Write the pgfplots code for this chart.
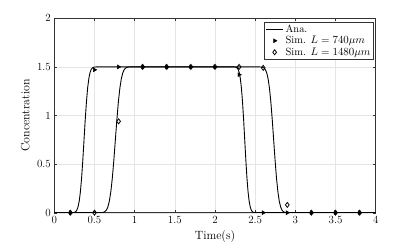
\documentclass[border=0pt]{standalone}
\usepackage{pgfplots}
\pgfplotsset{compat=1.18}
\begin{document}
\begin{tikzpicture}
\begin{axis}[
  at={(0,0)}, anchor=south west,
  scale only axis, width=321.4bp, height=194.4bp,
  xmin=0, xmax=4, ymin=0, ymax=2,
  xtick={0,0.5,...,4}, ytick={0,0.5,...,2},
  xticklabels={0,0.5,1,1.5,2,2.5,3,3.5,4},
  yticklabels={0,0.5,1,1.5,2},
  grid=major, major grid style={gray!20, line width=0.4pt},
  axis line style={black!80, line width=0.5pt},
  tick style={black!80, line width=0.4pt}, major tick length=3pt,
  tick label style={font=\fontsize{11}{13}\selectfont},
  xlabel={Time(s)}, ylabel={Concentration},
  label style={font=\fontsize{12}{14}\selectfont},
  xlabel style={at={(axis description cs:0.5,0)}, anchor=center, yshift=-24bp},
  ylabel style={at={(axis description cs:0,0.5)}, anchor=center, xshift=0bp, yshift=29bp},
  legend style={at={(axis description cs:0.994,0.983)}, anchor=north east, draw=black!80, line width=0.5pt,
     font=\fontsize{10.5}{12.5}\selectfont, inner sep=1pt, row sep=-1.5pt, fill=white},
  legend cell align=left,
]
\addplot[black, line width=0.9pt] coordinates {
(0,0) (0.22,0.0003) (0.235,0.0011) (0.25,0.0035) (0.265,0.0100) (0.28,0.0254) (0.295,0.0578)
(0.31,0.1180) (0.325,0.2166) (0.34,0.3596) (0.355,0.5428) (0.37,0.75) (0.385,0.9572)
(0.40,1.1404) (0.415,1.2834) (0.43,1.3820) (0.445,1.4422) (0.46,1.4746) (0.475,1.4900)
(0.49,1.4965) (0.505,1.4989) (0.52,1.4997)
(2.2325,1.4997) (2.2463,1.4989) (2.26,1.4965) (2.2738,1.4900) (2.2875,1.4746) (2.3013,1.4422)
(2.315,1.3820) (2.3288,1.2834) (2.3425,1.1404) (2.3563,0.9572) (2.37,0.75) (2.3838,0.5428)
(2.3975,0.3596) (2.4113,0.2166) (2.425,0.1180) (2.4388,0.0578) (2.4525,0.0254) (2.4663,0.0100)
(2.48,0.0035) (2.4938,0.0011) (2.5075,0.0003) (4,0)
};
\addlegendentry{Ana.}
\addplot[black, only marks, mark=triangle*, mark size=2.3pt, mark options={rotate=-90}] coordinates {
(0.2,0) (0.5,1.47) (0.8,1.5) (1.1,1.5) (1.4,1.5) (1.7,1.5) (2.0,1.5) (2.3,1.42)
(2.6,0) (2.9,0) (3.2,0) (3.5,0) (3.8,0)
};
\addlegendentry{Sim. $L=740\mu m$}
\addplot[black, only marks, mark=diamond, mark size=2.5pt, mark options={line width=0.8pt}] coordinates {
(0.2,0) (0.5,0) (0.8,0.94) (1.1,1.5) (1.4,1.5) (1.7,1.5) (2.0,1.5) (2.3,1.5)
(2.6,1.49) (2.9,0.08) (3.2,0) (3.5,0) (3.8,0)
};
\addlegendentry{Sim. $L=1480\mu m$}
\addplot[black, line width=0.9pt, forget plot] coordinates {
(0,0) (0.5725,0.0003) (0.5913,0.0011) (0.61,0.0035) (0.6288,0.0100) (0.6475,0.0254) (0.6663,0.0578)
(0.685,0.1180) (0.7038,0.2166) (0.7225,0.3596) (0.7413,0.5428) (0.76,0.75) (0.7788,0.9572)
(0.7975,1.1404) (0.8163,1.2834) (0.835,1.3820) (0.8538,1.4422) (0.8725,1.4746) (0.8913,1.4900)
(0.91,1.4965) (0.9288,1.4989) (0.9475,1.4997)
(2.555,1.4997) (2.5725,1.4989) (2.59,1.4965) (2.6075,1.4900) (2.625,1.4746) (2.6425,1.4422)
(2.66,1.3820) (2.6775,1.2834) (2.695,1.1404) (2.7125,0.9572) (2.73,0.75) (2.7475,0.5428)
(2.765,0.3596) (2.7825,0.2166) (2.80,0.1180) (2.8175,0.0578) (2.835,0.0254) (2.8525,0.0100)
(2.87,0.0035) (2.8875,0.0011) (2.905,0.0003) (4,0)
};
\end{axis}
\path[use as bounding box] (-54.3bp,-34.3bp) rectangle (360.7bp,212.7bp);
\end{tikzpicture}
\end{document}
